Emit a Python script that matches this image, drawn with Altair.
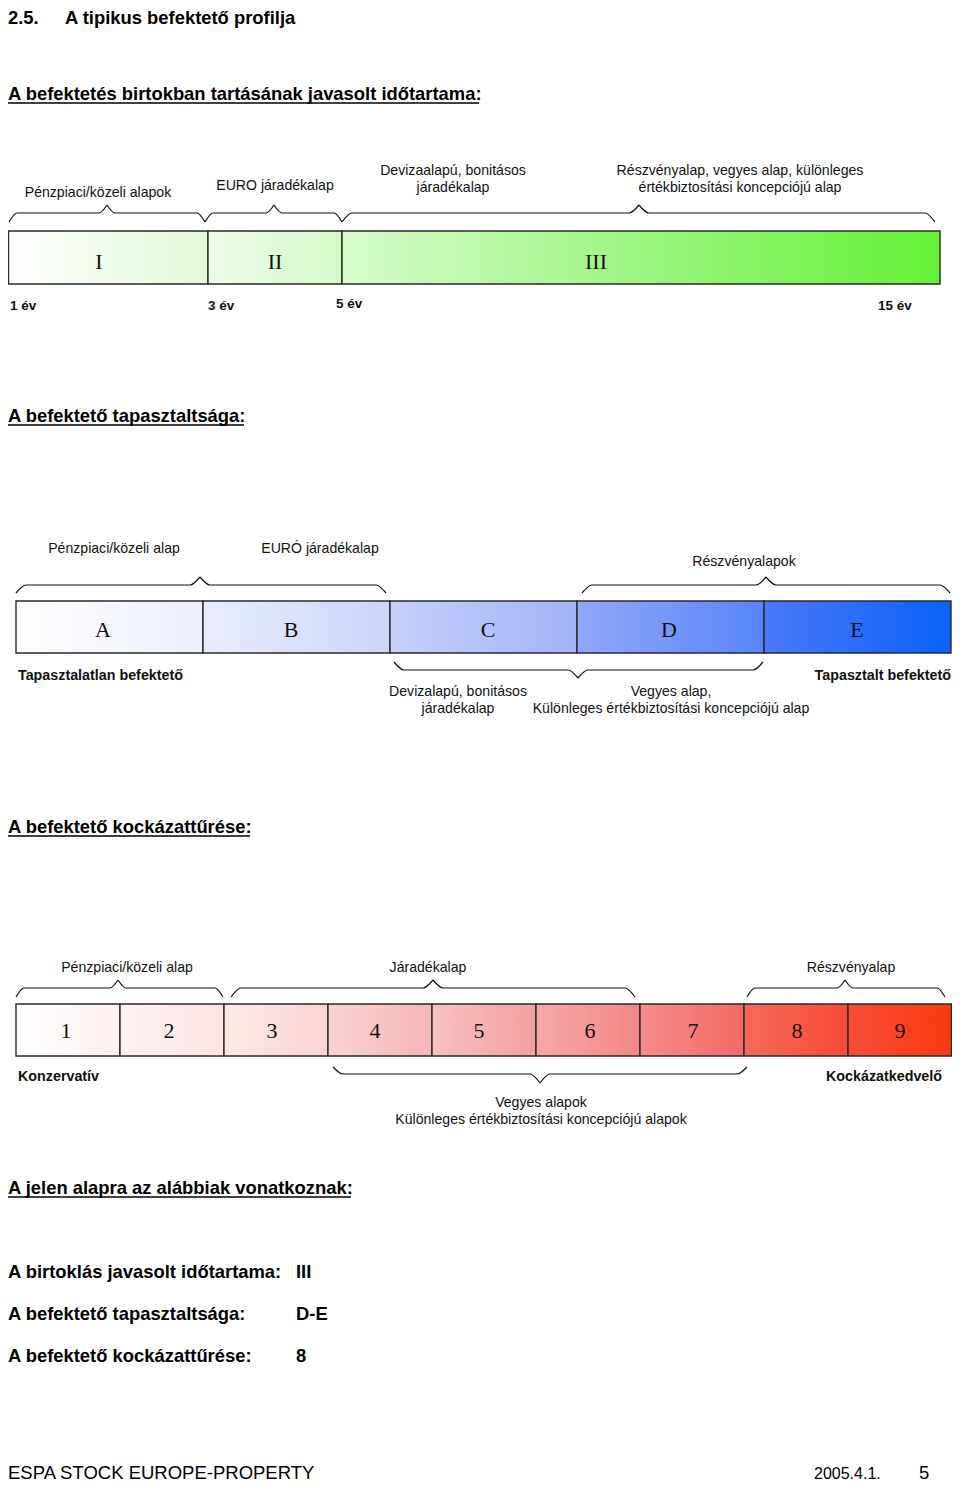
import altair as alt
import pandas as pd

# ---------------- data ----------------
duration_labels = ["I", "II", "III"]
duration_label_x = [99, 275, 596]
duration_edges = [8.5, 208, 342, 940]
duration_colors = [("#ffffff", "#e2f9d8"), ("#eefcea", "#d4f8c8"), ("#d6fbcc", "#62f035")]
year_ticks = ["1 év", "3 év", "5 év", "15 év"]
year_tick_x = [10, 208, 336, 878]
year_tick_y = [306, 306, 304, 306]
duration_groups = ["Pénzpiaci/közeli alapok", "EURO járadékalap",
                   "Devizaalapú, bonitásos\njáradékalap",
                   "Részvényalap, vegyes alap, különleges\nértékbiztosítási koncepciójú alap"]
duration_group_x = [98, 275, 453, 740]
duration_group_y = [193, 186, 171, 171]

experience_labels = ["A", "B", "C", "D", "E"]
experience_label_x = [103, 291, 488, 669, 857]
experience_edges = [16, 203, 390, 577, 764, 951]
experience_colors = [("#ffffff", "#eceffc"), ("#e8ecfc", "#ccd5f9"), ("#c6d0f9", "#a2b3f8"),
                     ("#92a8f8", "#5884f8"), ("#4a78f8", "#0a62f8")]
experience_top = ["Pénzpiaci/közeli alap", "EURÓ járadékalap", "Részvényalapok"]
experience_top_x = [114, 320, 744]
experience_top_y = [549, 549, 562]
experience_bottom = ["Devizalapú, bonitásos\njáradékalap",
                     "Vegyes alap,\nKülönleges értékbiztosítási koncepciójú alap"]
experience_bottom_x = [458, 671]

risk_labels = ["1", "2", "3", "4", "5", "6", "7", "8", "9"]
risk_label_x = [66, 169, 272, 375, 479, 590, 693, 797, 900]
risk_edges = [16, 120, 224, 328, 432, 536, 640, 744, 848, 951.5]
risk_colors = [("#ffffff", "#fdf0f0"), ("#fdf2f2", "#fde3e3"), ("#fde8e8", "#fad4d4"),
               ("#fad2d2", "#f6b6b6"), ("#f8c2c2", "#f49e9e"), ("#f6a8a8", "#f48686"),
               ("#f48c8c", "#f46a64"), ("#f46a5a", "#f84a36"), ("#f84c3a", "#fb3a0e")]
risk_top = ["Pénzpiaci/közeli alap", "Járadékalap", "Részvényalap"]
risk_top_x = [127, 428, 851]
risk_bottom = "Vegyes alapok\nKülönleges értékbiztosítási koncepciójú alapok"

# braces: (start, tip, end, y_end, y_line, y_tip)
braces = [
    (9, 107, 205, 222, 213, 205),
    (205, 274, 342, 222, 213, 205),
    (342, 639, 935, 222, 213, 205),
    (16, 200, 386, 593, 585, 577),
    (582, 766, 950, 593, 585, 577),
    (394, 578, 763, 662, 670, 678),
    (16, 118, 223, 997, 988, 980),
    (231, 433, 635, 997, 988, 980),
    (747, 845, 945, 997, 988, 980),
    (333, 540, 747, 1067, 1074, 1083),
]

headings = ["A befektetés birtokban tartásának javasolt időtartama:",
            "A befektető tapasztaltsága:", "A befektető kockázattűrése:",
            "A jelen alapra az alábbiak vonatkoznak:"]
heading_y = [94, 416, 827, 1188]
heading_ul = [479, 244, 250, 351]

summary_keys = ["A birtoklás javasolt időtartama:", "A befektető tapasztaltsága:",
                "A befektető kockázattűrése:"]
summary_vals = ["III", "D-E", "8"]
summary_y = [1272, 1314, 1356]

# ---------------- chart ----------------
X = alt.Scale(domain=[8, 952])
Y = alt.Scale(domain=[8, 1483], reverse=True)
SANS = "Liberation Sans"
SERIF = "Liberation Serif"


def xq(f):
    return alt.X(f, type="quantitative", scale=X, axis=None)


def yq(f):
    return alt.Y(f, type="quantitative", scale=Y, axis=None)


layers = []


def bar(labels, label_x, edges, colors, y0, y1, ylab):
    for i, lab in enumerate(labels):
        c0, c1 = colors[i]
        grad = alt.Gradient(gradient="linear",
                            stops=[alt.GradientStop(color=c0, offset=0),
                                   alt.GradientStop(color=c1, offset=1)],
                            x1=0, x2=1, y1=0, y2=0)
        df = pd.DataFrame({"x": [edges[i]], "x2": [edges[i + 1]], "y": [y0], "y2": [y1]})
        layers.append(alt.Chart(df).mark_rect(fill=grad, stroke="#2a2a2a", strokeWidth=1.4)
                      .encode(x=xq("x"), x2="x2", y=yq("y"), y2="y2"))
    df = pd.DataFrame({"t": labels, "x": label_x, "y": [ylab] * len(labels)})
    layers.append(alt.Chart(df).mark_text(font=SERIF, fontSize=22, color="#111",
                                          baseline="middle", align="center")
                  .encode(x=xq("x"), y=yq("y"), text="t"))


bar(duration_labels, duration_label_x, duration_edges, duration_colors, 231, 284, 262)
bar(experience_labels, experience_label_x, experience_edges, experience_colors, 601, 653, 630)
bar(risk_labels, risk_label_x, risk_edges, risk_colors, 1004, 1056, 1031)

# braces
rows = []
for k, (a, t, b, ye, yl, yt) in enumerate(braces):
    r = 10 if (b - a) > 250 else 8
    for h, pts in enumerate([[(a, ye), (a + r, yl), (t - r, yl), (t, yt)],
                             [(t, yt), (t + r, yl), (b - r, yl), (b, ye)]]):
        for j, (px, py) in enumerate(pts):
            rows.append({"g": f"{k}-{h}", "x": px, "y": py, "o": j})
bdf = pd.DataFrame(rows)
layers.append(alt.Chart(bdf).mark_line(interpolate="monotone", color="#111", strokeWidth=1.2)
              .encode(x=xq("x"), y=yq("y"), detail="g:N", order="o:Q"))


def texts(items, size=14, weight="normal", align="center", font=SANS, color="#111"):
    rows = []
    for (t, x, y) in items:
        lines = t.split("\n")
        for i, ln in enumerate(lines):
            rows.append({"t": ln, "x": x, "y": y + i * 16.5})
    df = pd.DataFrame(rows)
    layers.append(alt.Chart(df).mark_text(font=font, fontSize=size, fontWeight=weight,
                                          align=align, baseline="middle", color=color)
                  .encode(x=xq("x"), y=yq("y"), text="t"))


# regular centered labels
items = list(zip(duration_groups, duration_group_x, duration_group_y))
items += list(zip(experience_top, experience_top_x, experience_top_y))
items += [(t, x, 692) for t, x in zip(experience_bottom, experience_bottom_x)]
items += [(t, x, 968) for t, x in zip(risk_top, risk_top_x)]
items += [(risk_bottom, 541, 1103)]
texts(items, size=14.1)

# bold small labels
texts(list(zip(year_ticks, year_tick_x, year_tick_y)), size=13.5, weight="bold", align="left")
texts([("Tapasztalatlan befektető", 18, 676), ("Konzervatív", 18, 1077)],
      size=14.3, weight="bold", align="left")
texts([("Tapasztalt befektető", 951, 676), ("Kockázatkedvelő", 942, 1077)],
      size=14.3, weight="bold", align="right")

# headings
texts([("2.5.", 8, 18), ("A tipikus befektető profilja", 65, 18)] +
      [(h, 8, y) for h, y in zip(headings, heading_y)] +
      [(k, 8, y) for k, y in zip(summary_keys, summary_y)] +
      [(v, 296, y) for v, y in zip(summary_vals, summary_y)],
      size=18.4, weight="bold", align="left", color="#000")

# underlines
udf = pd.DataFrame({"x": [8] * 4, "x2": heading_ul, "y": [y + 9 for y in heading_y]})
layers.append(alt.Chart(udf).mark_rule(color="#000", strokeWidth=1.6)
              .encode(x=xq("x"), x2="x2", y=yq("y")))

# footer
texts([("ESPA STOCK EUROPE-PROPERTY", 8, 1472.5), ("5", 919, 1472.5)], size=18.5,
      align="left", color="#000")
texts([("2005.4.1.", 814, 1473.5)], size=16, align="left", color="#000")

chart = alt.layer(*layers).properties(
    width=944, height=1475, padding=0,
    autosize=alt.AutoSizeParams(type="none")
).configure_view(stroke=None)

chart.save("out.html", embed_options={"renderer": "svg", "actions": False})
